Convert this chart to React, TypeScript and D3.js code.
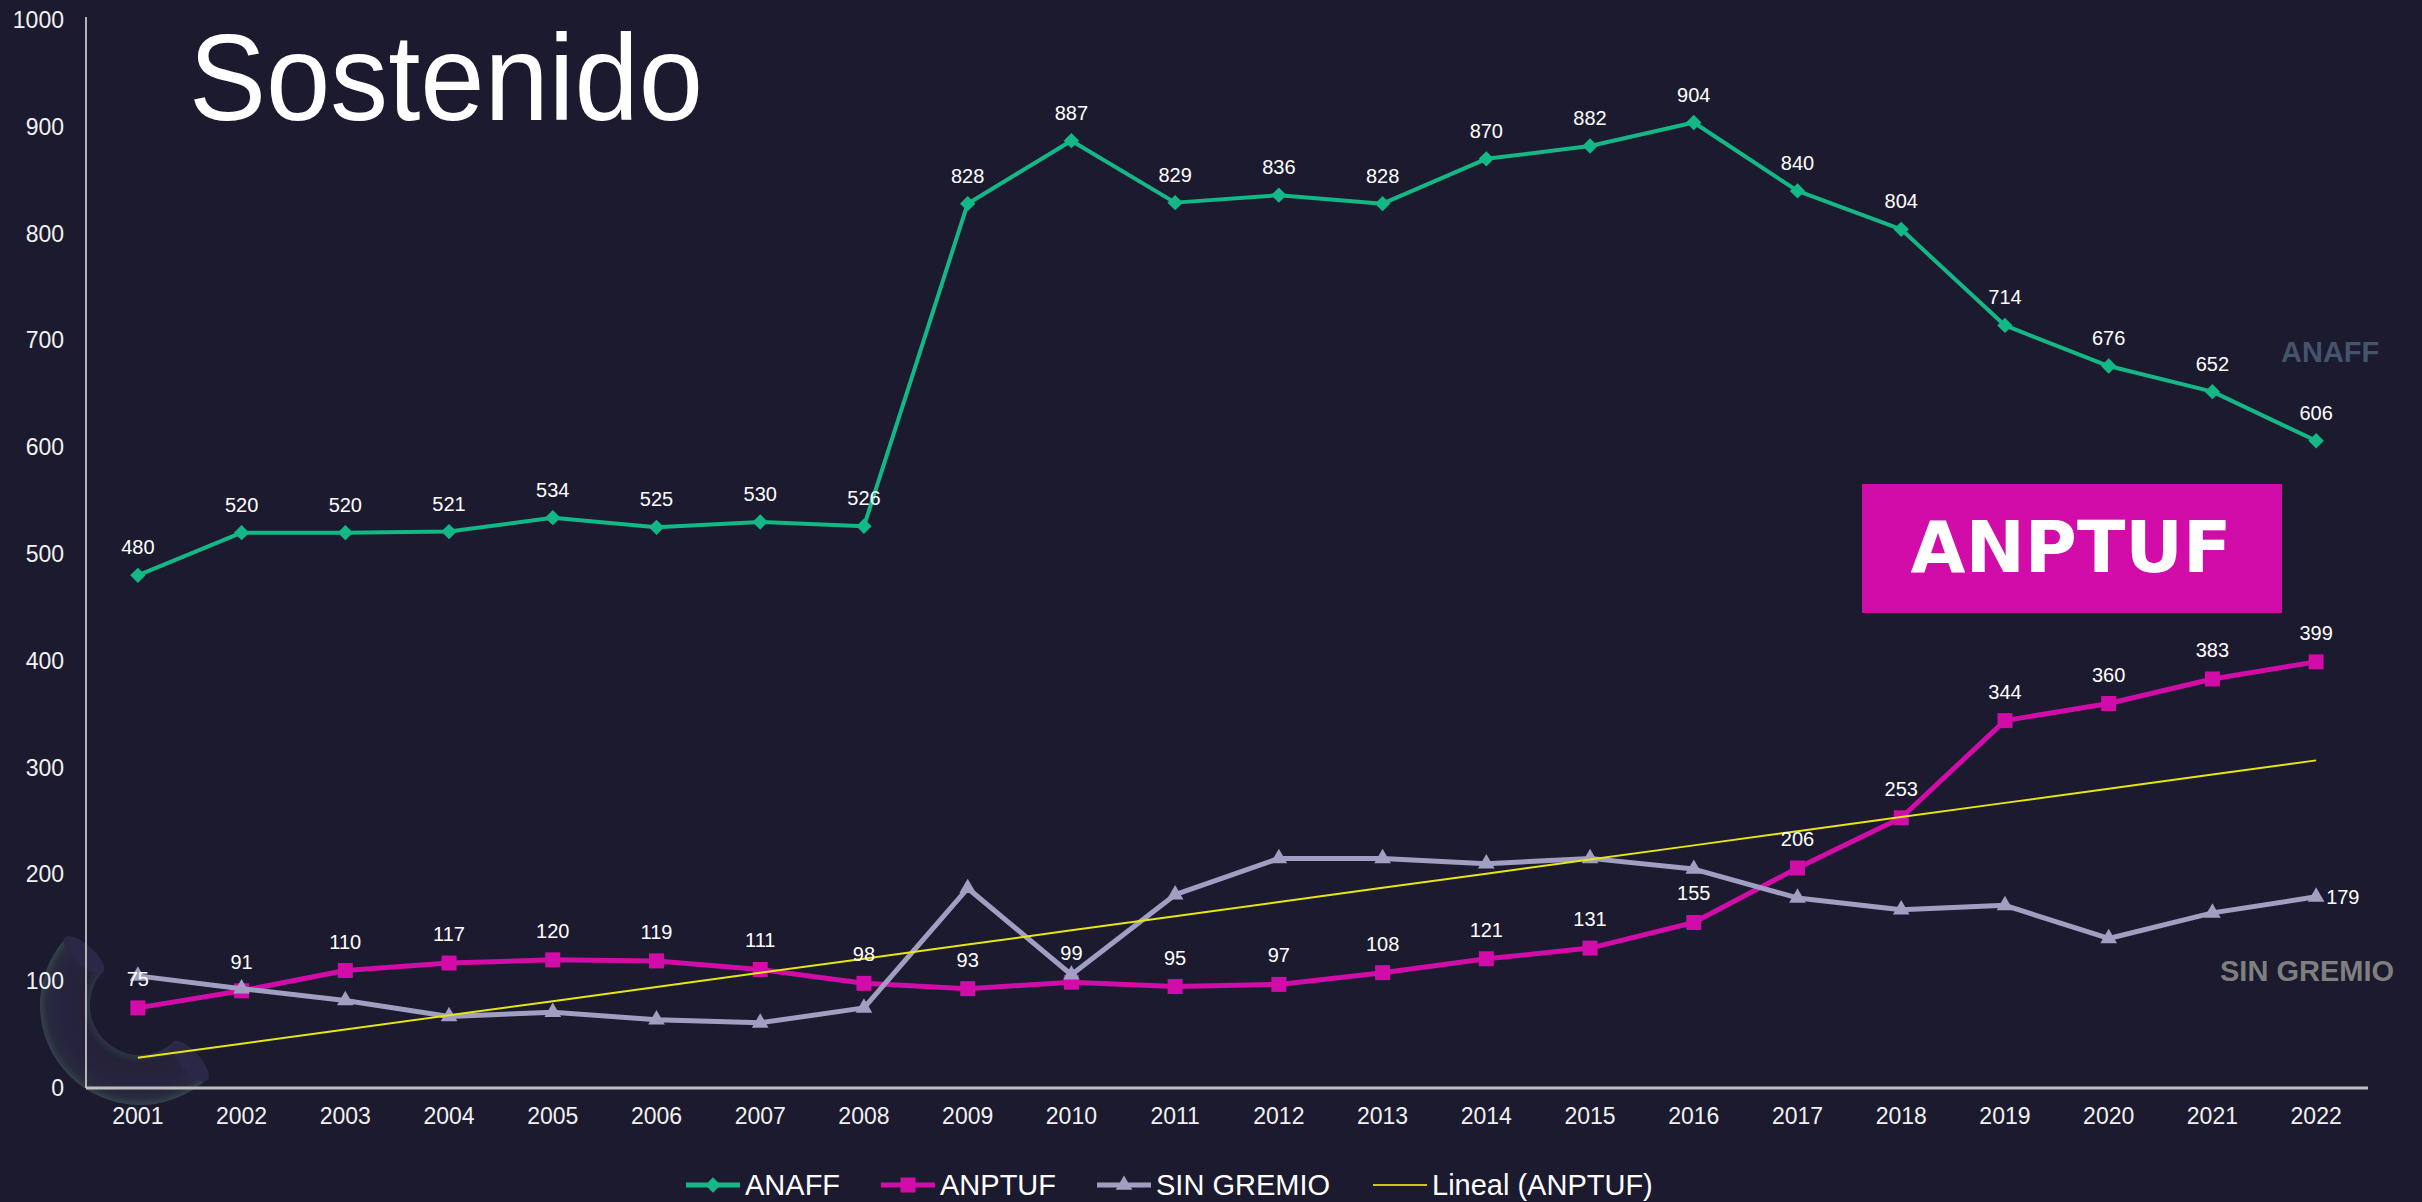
import React from 'react';
import * as d3 from 'd3';

const YEARS = ['2001','2002','2003','2004','2005','2006','2007','2008','2009','2010','2011','2012','2013','2014','2015','2016','2017','2018','2019','2020','2021','2022'];
const ANAFF = [480,520,520,521,534,525,530,526,828,887,829,836,828,870,882,904,840,804,714,676,652,606];
const ANPTUF = [75,91,110,117,120,119,111,98,93,99,95,97,108,121,131,155,206,253,344,360,383,399];
const SIN_GREMIO = [105,93,82,67,71,64,61,75,187,106,181,215,215,210,215,205,178,167,171,140,164,179];
const Y_TICKS = [0,100,200,300,400,500,600,700,800,900,1000];
const SERIES_NAMES = ['ANAFF','ANPTUF','SIN GREMIO','Lineal (ANPTUF)'];

const W = 2422, H = 1202;
const BG = '#1c1a2e';
const C_ANAFF = '#14b886';
const C_ANPTUF = '#d20ca8';
const C_SIN = '#a19fc1';
const C_TREND = '#e6e614';
const FONT = '"Liberation Sans", Arial, sans-serif';

export default function App() {
  const x = d3.scalePoint<string>().domain(YEARS).range([86, 2368]).padding(0.5);
  const y = d3.scaleLinear().domain([0, 1000]).range([1088, 20]);

  const line = d3.line<number>().x((_, i) => x(YEARS[i])!).y(d => y(d));

  // linear regression trendline for ANPTUF
  const n = ANPTUF.length;
  const idx = d3.range(1, n + 1);
  const mx = d3.mean(idx)!;
  const my = d3.mean(ANPTUF)!;
  const sxy = d3.sum(idx, (v, i) => (v - mx) * (ANPTUF[i] - my));
  const sxx = d3.sum(idx, v => (v - mx) * (v - mx));
  const slope = sxy / sxx;
  const intercept = my - slope * mx;
  const trend = idx.map(v => intercept + slope * v);

  const diamond = d3.symbol().type(d3.symbolDiamond2).size(150)()!;
  const square = d3.symbol().type(d3.symbolSquare).size(225)()!;
  const triangle = d3.symbol().type(d3.symbolTriangle).size(120)()!;

  const arcCx = 140, arcCy = 1005;
  const arcPath = d3.arc()({
    innerRadius: 50, outerRadius: 100,
    startAngle: (138 * Math.PI) / 180, endAngle: (312 * Math.PI) / 180,
  } as any)!;

  const legendItems = [
    { name: SERIES_NAMES[0], x0: 686, color: C_ANAFF, sym: diamond, w: 5 },
    { name: SERIES_NAMES[1], x0: 881, color: C_ANPTUF, sym: square, w: 5 },
    { name: SERIES_NAMES[2], x0: 1097, color: C_SIN, sym: triangle, w: 5 },
    { name: SERIES_NAMES[3], x0: 1373, color: '#c8c814', sym: null, w: 2 },
  ];

  return (
    <svg width={W} height={H} style={{ position: 'absolute', left: 0, top: 0, display: 'block' }}>
      <defs>
        <radialGradient id="tube" cx={0} cy={0} r={100} gradientUnits="userSpaceOnUse">
          <stop offset="0.5" stopColor="#2c3444" />
          <stop offset="0.58" stopColor="#252238" />
          <stop offset="0.8" stopColor="#26233f" />
          <stop offset="0.93" stopColor="#282b3e" />
          <stop offset="1" stopColor="#33424a" />
        </radialGradient>
      </defs>
      <rect x={0} y={0} width={W} height={H} fill={BG} />

      {/* decorative tube */}
      <g transform={`translate(${arcCx},${arcCy})`}>
        <path d={arcPath} fill="url(#tube)" />
        <ellipse cx={-56} cy={-50} rx={26} ry={10} transform="rotate(42,-56,-50)" fill="#2a2747" />
        <ellipse cx={50} cy={56} rx={26} ry={10} transform="rotate(48,50,56)" fill="#2a2747" />
      </g>

      {/* title */}
      <text x={189} y={120} fontFamily={FONT} fontSize={122} fill="#ffffff" textLength={514} lengthAdjust="spacingAndGlyphs">Sostenido</text>

      {/* axes */}
      <line x1={86} x2={86} y1={y(1000) - 3} y2={y(0)} stroke="#e6e6e6" strokeWidth={1.5} />
      <line x1={86} x2={2368} y1={y(0)} y2={y(0)} stroke="#bfbfbf" strokeWidth={3} />
      {Y_TICKS.map(t => (
        <text key={t} x={64} y={y(t)} textAnchor="end" dominantBaseline="central" fontFamily={FONT} fontSize={23} fill="#f2f2f2">{t}</text>
      ))}
      {YEARS.map(yr => (
        <text key={yr} x={x(yr)!} y={1124} textAnchor="middle" fontFamily={FONT} fontSize={23} fill="#f2f2f2">{yr}</text>
      ))}

      {/* series */}
      <path d={line(ANAFF)!} fill="none" stroke={C_ANAFF} strokeWidth={4} strokeLinejoin="round" />
      {ANAFF.map((v, i) => (
        <path key={'a' + i} d={diamond} transform={`translate(${x(YEARS[i])},${y(v)})`} fill={C_ANAFF} />
      ))}
      <path d={line(ANPTUF)!} fill="none" stroke={C_ANPTUF} strokeWidth={5} strokeLinejoin="round" />
      {ANPTUF.map((v, i) => (
        <path key={'p' + i} d={square} transform={`translate(${x(YEARS[i])},${y(v)})`} fill={C_ANPTUF} />
      ))}
      <path d={line(SIN_GREMIO)!} fill="none" stroke={C_SIN} strokeWidth={5} strokeLinejoin="round" />
      {SIN_GREMIO.map((v, i) => (
        <path key={'s' + i} d={triangle} transform={`translate(${x(YEARS[i])},${y(v)})`} fill={C_SIN} />
      ))}
      <path d={line(trend)!} fill="none" stroke={C_TREND} strokeWidth={2} />

      {/* data labels */}
      {ANAFF.map((v, i) => (
        <text key={'la' + i} x={x(YEARS[i])!} y={y(v) - 21} textAnchor="middle" fontFamily={FONT} fontSize={20} fill="#ffffff">{v}</text>
      ))}
      {ANPTUF.map((v, i) => (
        <text key={'lp' + i} x={x(YEARS[i])!} y={y(v) - 22} textAnchor="middle" fontFamily={FONT} fontSize={20} fill="#ffffff">{v}</text>
      ))}
      <text x={x(YEARS[YEARS.length - 1])! + 10} y={y(SIN_GREMIO[SIN_GREMIO.length - 1])} dominantBaseline="central" fontFamily={FONT} fontSize={20} fill="#ffffff">{SIN_GREMIO[SIN_GREMIO.length - 1]}</text>

      {/* annotations */}
      <text x={2281} y={352} dominantBaseline="central" fontFamily={FONT} fontWeight="bold" fontSize={29} fill="#44546a">ANAFF</text>
      <rect x={1862} y={484} width={420} height={129} fill={C_ANPTUF} />
      <text x={2071} y={572} textAnchor="middle" fontFamily='"DejaVu Sans", sans-serif' fontWeight="bold" fontSize={71} fill="#ffffff">ANPTUF</text>
      <text x={2220} y={971} dominantBaseline="central" fontFamily={FONT} fontWeight="bold" fontSize={29} fill="#7f7f7f">SIN GREMIO</text>

      {/* legend */}
      {legendItems.map(it => (
        <g key={it.name}>
          <line x1={it.x0} x2={it.x0 + 54} y1={1185} y2={1185} stroke={it.color} strokeWidth={it.w} />
          {it.sym && <path d={it.sym} transform={`translate(${it.x0 + 27},1185)`} fill={it.color} />}
          <text x={it.x0 + 59} y={1185} dominantBaseline="central" fontFamily={FONT} fontSize={29} fill="#ffffff">{it.name}</text>
        </g>
      ))}
    </svg>
  );
}
